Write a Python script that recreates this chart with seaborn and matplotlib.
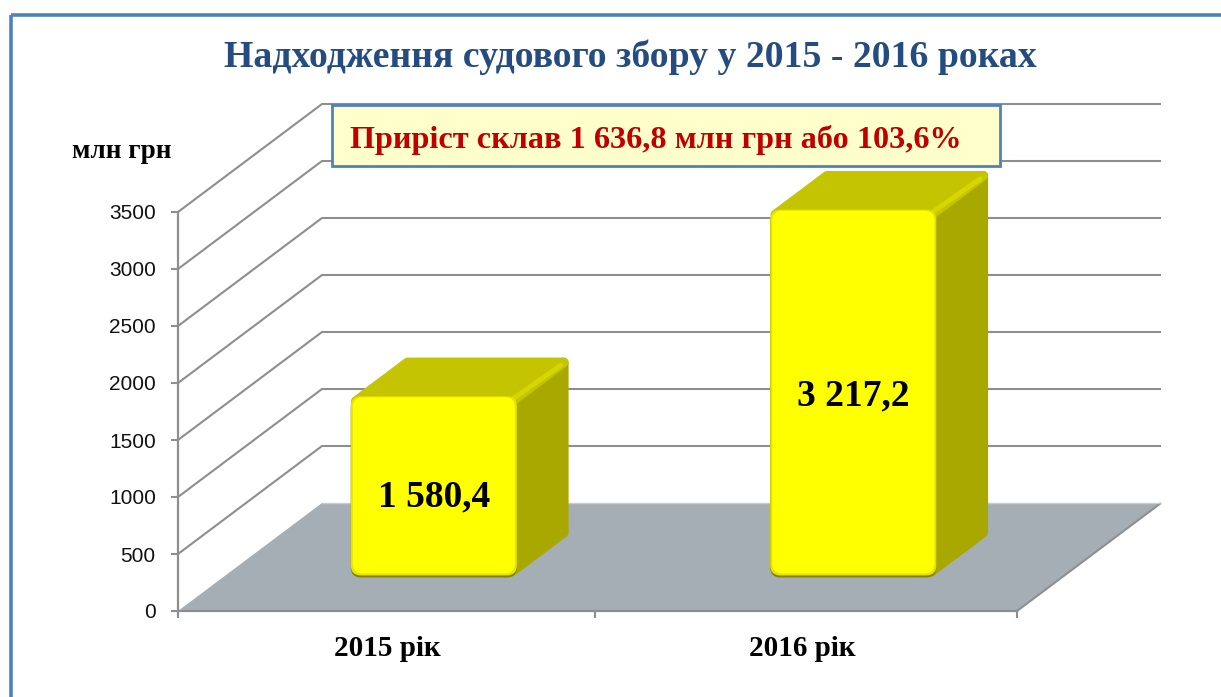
import matplotlib
matplotlib.use("Agg")
import matplotlib.pyplot as plt
import pandas as pd
import seaborn as sns
from matplotlib.patches import FancyBboxPatch, Polygon, Rectangle

years = ["2015 рік", "2016 рік"]
values = [1580.4, 3217.2]
value_labels = ["1 580,4", "3 217,2"]
y_ticks = [0, 500, 1000, 1500, 2000, 2500, 3000, 3500]
title = "Надходження судового збору у 2015 - 2016 роках"
note = "Приріст склав 1 636,8 млн грн або 103,6%"
unit = "млн грн"

W, H = 1221, 697
sns.set_theme(style="white")
plt.rcParams["font.family"] = ["Liberation Serif", "DejaVu Serif"]

GRID = "#8E8E8E"
FLOOR = "#A6AEB5"
BLUE = "#4F81BD"

fig = plt.figure(figsize=(W / 100, H / 100), dpi=100, facecolor="white")
ax = fig.add_axes([178 / W, (H - 611) / H, (1017 - 178) / W, (611 - 212) / H])
df = pd.DataFrame({"year": years, "value": values})
sns.barplot(data=df, x="year", y="value", width=0.396, color="#FFFF00",
            saturation=1, ax=ax, errorbar=None)
ax.set_xlim(-0.5, 1.5)
ax.set_ylim(0, 3500)
ax.set_xlabel("")
ax.set_ylabel("")

# oblique depth, in data units
px_x = 2.0 / (1017 - 178)
px_y = 3500 / (611 - 212)
DX = 144 * px_x
DY = 108 * px_y
F0, F1 = 0.32, 0.68

# walls
x0, x1 = ax.get_xlim()
for v in y_ticks:
    if v > 0:
        ax.plot([x0, x0 + DX, x1 + DX], [v, v + DY, v + DY], color=GRID, lw=1.5,
                clip_on=False, zorder=0.5, solid_joinstyle="round", solid_capstyle="butt")
# floor
ax.add_patch(Polygon([(x0, 0), (x0 + DX, DY), (x1 + DX, DY), (x1, 0)], closed=True,
                     facecolor=FLOOR, edgecolor="none", clip_on=False, zorder=0.8))
ax.plot([x1, x1 + DX], [0, DY], color=GRID, lw=1.5, clip_on=False, zorder=0.85,
        solid_capstyle="butt")
ax.plot([x0 + DX, x1 + DX], [DY, DY], color="#C8CCD0", lw=1.0, clip_on=False, zorder=0.85,
        solid_capstyle="butt")


def face(points, color, z):
    ax.add_patch(Polygon(points, closed=True, facecolor=color, edgecolor=color, lw=7,
                         joinstyle="round", clip_on=False, zorder=z))


bars = [p for p in ax.patches if isinstance(p, Rectangle)]
rx, ry = 10 * px_x, 10 * px_y
ix, iy = 5 * px_x, 5 * px_y
label_drop_px = [11, 3]
for bar, label, drop in zip(bars, value_labels, label_drop_px):
    h = bar.get_height()
    w = bar.get_width()
    left = bar.get_x() + F0 * DX
    right = left + w
    base = F0 * DY
    top = base + h
    ddx, ddy = (F1 - F0) * DX, (F1 - F0) * DY
    bar.remove()
    # side and top faces
    face([(right - ix, base + iy), (right + ddx - ix, base + ddy + iy),
          (right + ddx - ix, top + ddy - iy), (right - ix, top - iy)], "#A8A800", 2)
    face([(left + ix, top - iy), (left + ddx + ix, top + ddy - iy),
          (right + ddx - ix, top + ddy - iy), (right - ix, top - iy)], "#C4C400", 2.1)
    ax.plot([right - 1.5 * ix, right + ddx - 1.6 * ix], [top - iy, top + ddy - 1.6 * iy],
            color="#D6D600", lw=3.5, solid_capstyle="round", clip_on=False, zorder=2.2)
    # front face: shaded lower rim, slightly darker rim, then the yellow face
    layers = [(left, base - 1 * px_y, w, h, "#7F7F00", 3),
              (left, base + 1 * px_y, w, h - 1 * px_y, "#E4E400", 3.1),
              (left + 2 * px_x, base + 3 * px_y, w - 4 * px_x, h - 4 * px_y, "#FFFF00", 3.2)]
    for lx, ly, lw_, lh, col, z in layers:
        ax.add_patch(FancyBboxPatch((lx, ly), lw_, lh,
                                    boxstyle=f"round,pad=0,rounding_size={rx}",
                                    mutation_aspect=ry / rx, facecolor=col, edgecolor="none",
                                    clip_on=False, zorder=z))
    ax.text(left + w / 2, base + h / 2 - drop * px_y, label,
            ha="center", va="center", fontsize=27, fontweight="bold", color="black", zorder=5)

# axes
sns.despine(ax=ax, top=True, right=True)
for s in ("left", "bottom"):
    ax.spines[s].set_color(GRID)
    ax.spines[s].set_linewidth(1.6)
    ax.spines[s].set_zorder(1)
ax.set_yticks(y_ticks)
ax.tick_params(axis="y", length=5, width=1.5, color=GRID, pad=11, labelsize=15,
               labelcolor="#111111", left=True)
for lab in ax.get_yticklabels():
    lab.set_fontfamily("Liberation Sans")
ax.set_xticks([0, 0.988])
ax.set_xticklabels(years, fontsize=21, fontweight="bold", color="black")
ax.set_xticks([-0.5, 0.495, 1.5], minor=True)
ax.tick_params(axis="x", which="major", length=0, pad=17.5)
ax.tick_params(axis="x", which="minor", length=5, width=1.5, color=GRID, bottom=True)

# frame, titles and note, placed in figure pixels
px = fig.transFigure
fig.add_artist(Rectangle((10.5 / W, 1 - 14.5 / H), (W + 20) / W, -(H + 10) / H, transform=px,
                         facecolor="none", edgecolor=BLUE, lw=2.6, clip_on=True))
fig.text(630.5 / W, 1 - 57 / H, title, ha="center", va="center", fontsize=27.2,
         fontweight="bold", color="#254C80")
fig.text(121.5 / W, 1 - 152 / H, unit, ha="center", va="center", fontsize=19.5,
         fontweight="bold", color="black")
fig.add_artist(Rectangle((332 / W, 1 - 166 / H), (1000 - 332) / W, 61 / H, transform=px,
                         facecolor="#FFFFCC", edgecolor=BLUE, lw=2, zorder=6))
fig.text(656 / W, 1 - 140 / H, note, ha="center", va="center", fontsize=23.2,
         fontweight="bold", color="#C00000", zorder=7)

fig.savefig("out.png", dpi=100)
